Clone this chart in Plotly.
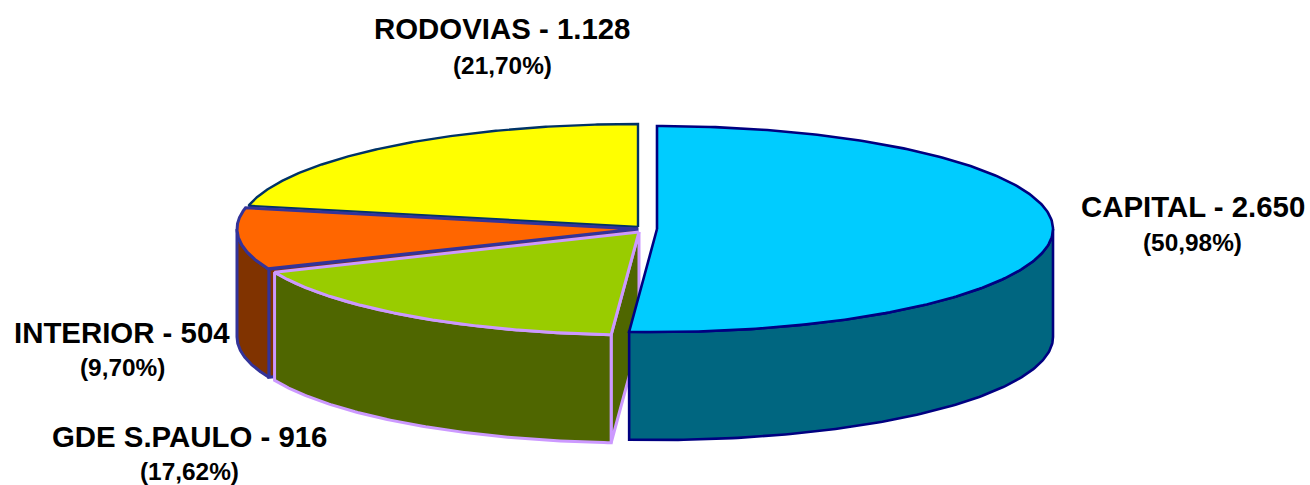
import numpy as np
import plotly.graph_objects as go

# Data
categories = ["CAPITAL", "GDE S.PAULO", "INTERIOR", "RODOVIAS"]
values = [2650, 916, 504, 1128]
value_labels = ["2.650", "916", "504", "1.128"]
pct_labels = ["(50,98%)", "(17,62%)", "(9,70%)", "(21,70%)"]

# Style / geometry
top_colors = ["#00CCFF", "#99CC00", "#FF6600", "#FFFF00"]
wall_colors = ["#006680", "#4F6600", "#803300", "#808000"]
edge_colors = ["#000080", "#CC99FF", "#333399", "#003366"]
centers = [(657, 229), (639, 232), (637, 229), (638, 227)]
radii_x = [396, 396, 400, 398]
RY, DEPTH = 103, 108
edge_widths = [2.6, 3, 3, 2.4]
BOUNDARY_SHIFT = np.radians(0.5)  # perspective tweak at the capital / gde edge

title_pos = [(1193, 206), (189, 436), (122, 332), (502, 28)]
pct_pos = [(1192, 242), (189, 471), (122, 367), (502, 65)]
TITLE_SIZE, PCT_SIZE = 29.4, 24.4

fracs = np.array(values) / sum(values)
ends = np.cumsum(fracs) * 2 * np.pi
starts = ends - fracs * 2 * np.pi
ends[0] += BOUNDARY_SHIFT
starts[1] += BOUNDARY_SHIFT


def ell(i, a, dy=0.0):
    c = centers[i]
    return c[0] + radii_x[i] * np.sin(a), c[1] - RY * np.cos(a) + dy


def poly(fig, xs, ys, i, fill):
    fig.add_trace(go.Scatter(x=list(xs), y=list(ys), mode="lines", fill="toself",
                             fillcolor=fill,
                             line=dict(color=edge_colors[i], width=edge_widths[i]),
                             hoverinfo="skip", showlegend=False))


fig = go.Figure()
for i in [3, 2, 1, 0]:
    c, s, e = centers[i], starts[i], ends[i]
    # radial cut wall at the trailing side of the slice
    if np.pi < s < 1.5 * np.pi:
        px, py = ell(i, s)
        poly(fig, [px, c[0], c[0], px, px],
             [py, c[1], c[1] + DEPTH, py + DEPTH, py], i, wall_colors[i])
    # outer wall on the front half
    a0, a1 = max(s, np.pi / 2), min(e, 1.5 * np.pi)
    if a1 > a0:
        t = np.linspace(a0, a1, 120)
        x, y = ell(i, t)
        poly(fig, np.r_[x, x[::-1], x[0]], np.r_[y, (y + DEPTH)[::-1], y[0]], i, wall_colors[i])
    # top face
    t = np.linspace(s, e, 240)
    x, y = ell(i, t)
    poly(fig, np.r_[c[0], x, c[0]], np.r_[c[1], y, c[1]], i, top_colors[i])

anns = []
for i, cat in enumerate(categories):
    anns.append(dict(x=title_pos[i][0], y=title_pos[i][1], text=f"<b>{cat} - {value_labels[i]}</b>",
                     font=dict(size=TITLE_SIZE)))
    anns.append(dict(x=pct_pos[i][0], y=pct_pos[i][1], text=f"<b>{pct_labels[i]}</b>",
                     font=dict(size=PCT_SIZE)))
for a in anns:
    a.update(xref="x", yref="y", showarrow=False, xanchor="center", yanchor="middle")
    a["font"].update(family="Liberation Sans", color="#000000")

fig.update_layout(width=1310, height=485, margin=dict(l=0, r=0, t=0, b=0),
                  paper_bgcolor="#FFFFFF", plot_bgcolor="#FFFFFF", annotations=anns,
                  xaxis=dict(range=[0, 1310], visible=False, fixedrange=True),
                  yaxis=dict(range=[485, 0], visible=False, fixedrange=True))
fig.write_html("out.html", post_script="document.body.style.margin='0';",
               config=dict(displayModeBar=False))
